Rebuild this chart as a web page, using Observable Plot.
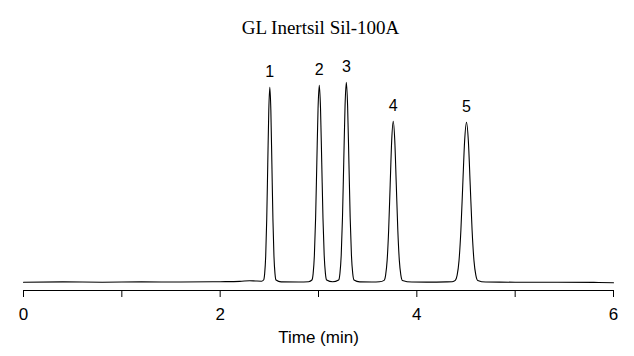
<!DOCTYPE html>
<html>
<head>
<meta charset="utf-8">
<script src="https://cdn.jsdelivr.net/npm/d3@7"></script>
<script src="https://cdn.jsdelivr.net/npm/@observablehq/plot@0.6"></script>
<style>
  html, body { margin: 0; padding: 0; background: #ffffff; }
  #chart { width: 634px; height: 356px; }
</style>
</head>
<body>
<div id="chart"></div>
<script>
const chartTitle = "GL Inertsil Sil-100A";
const xLabel = "Time (min)";
const xTicks = [0, 1, 2, 3, 4, 5, 6];
const xTickLabels = ["0", "", "2", "", "4", "", "6"];

const peakLabel = ["1", "2", "3", "4", "5"];
const peakTime = [2.505, 3.008, 3.283, 3.760, 4.505];
const peakHeight = [195, 197, 200, 161, 160];

// detector trace (time in min, signal in arbitrary units)
const traceTime = [
  0.0, 0.4, 0.8, 1.2, 1.6, 2.0, 2.2, 2.3, 2.36, 2.42,
  2.442, 2.4525, 2.463, 2.4735, 2.484, 2.4945, 2.505, 2.5155, 2.526, 2.5365, 2.547, 2.5575, 2.568,
  2.62, 2.8, 2.9,
  2.933, 2.9455, 2.958, 2.9705, 2.983, 2.9955, 3.008, 3.0205, 3.033, 3.0455, 3.058, 3.0705, 3.083,
  3.144,
  3.205, 3.218, 3.231, 3.244, 3.257, 3.270, 3.283, 3.296, 3.309, 3.322, 3.335, 3.348, 3.361,
  3.42, 3.55, 3.62,
  3.667, 3.6825, 3.698, 3.7135, 3.729, 3.7445, 3.760, 3.7755, 3.791, 3.8065, 3.822, 3.8375, 3.853,
  3.95, 4.1, 4.3, 4.36,
  4.391, 4.410, 4.429, 4.448, 4.467, 4.486, 4.505, 4.524, 4.543, 4.562, 4.581, 4.600, 4.619,
  4.7, 5.0, 5.4, 5.8, 6.0
];
const traceSignal = [
  0.0, 0.3, 0.0, 0.3, 0.2, 0.5, 0.8, 1.5, 1.2, 1.0,
  2.2, 8.6, 26, 63, 118, 172, 195, 172, 118, 63, 26, 8.6, 2.2,
  0.3, 0.2, 0.5,
  2.2, 8.6, 26.7, 64, 119.5, 174, 197, 174, 119.5, 64, 26.7, 8.6, 2.2,
  0.4,
  2.2, 8.8, 27, 65, 121.3, 176.5, 200, 176.5, 121.3, 65, 27, 8.8, 2.2,
  0.3, 0.2, 0.4,
  1.8, 7.1, 21.8, 52.3, 97.6, 142, 161, 142, 97.6, 52.3, 21.8, 7.1, 1.8,
  0.2, 0.1, 0.3, 0.5,
  1.8, 7, 21.6, 52, 97, 141.2, 160, 141.2, 97, 52, 21.6, 7, 1.8,
  0.2, 0.0, 0.0, -0.2, -0.5
];

const trace = traceTime.map((t, i) => ({time: t, signal: traceSignal[i]}));
const peaks = peakLabel.map((l, i) => ({label: l, time: peakTime[i], height: peakHeight[i]}));

const chart = Plot.plot({
  width: 634,
  height: 356,
  marginLeft: 23,
  marginRight: 21,
  marginTop: 40,
  marginBottom: 66,
  style: {
    fontFamily: "'Liberation Sans', Arial, sans-serif",
    fontSize: "17px",
    color: "black",
    background: "white",
    overflow: "visible"
  },
  x: {domain: [0, 6]},
  y: {domain: [-8.3, 241.7], axis: null},
  marks: [
    Plot.frame({anchor: "bottom", stroke: "black"}),
    Plot.axisX({
      ticks: xTicks,
      tickFormat: (d) => xTickLabels[xTicks.indexOf(d)],
      tickSize: 7,
      tickPadding: 10,
      fontSize: 17,
      label: xLabel,
      labelAnchor: "center",
      labelArrow: "none",
      labelOffset: 52
    }),
    Plot.line(trace, {x: "time", y: "signal", curve: "monotone-x", stroke: "black", strokeWidth: 1.1}),
    Plot.text(peaks, {x: "time", y: "height", text: "label", lineAnchor: "bottom", dy: -10, fontSize: 16, fill: "black"}),
    Plot.text([chartTitle], {
      frameAnchor: "top",
      lineAnchor: "bottom",
      dy: -7,
      dx: 2,
      fontFamily: "'Liberation Serif', 'Times New Roman', serif",
      fontSize: 19,
      fill: "black"
    })
  ]
});
document.getElementById("chart").appendChild(chart);
</script>
</body>
</html>
